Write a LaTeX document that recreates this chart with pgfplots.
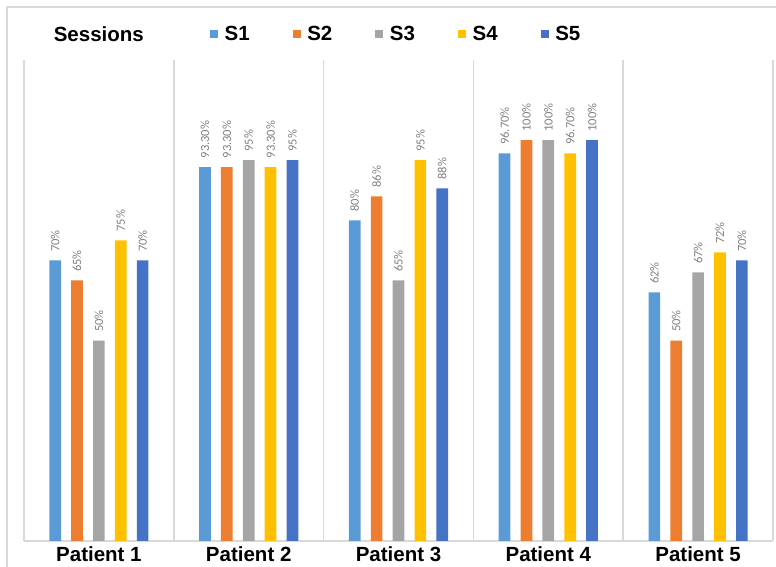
\documentclass[border=0pt]{standalone}
\usepackage{fontspec}
\setmainfont{Liberation Sans}
\newfontfamily\lblfont{Carlito}
\usepackage{pgfplots}
\usepackage{pgfplotstable}
\pgfplotsset{compat=1.18}

\definecolor{sA}{HTML}{5B9BD5}
\definecolor{sB}{HTML}{ED7D31}
\definecolor{sC}{HTML}{A5A5A5}
\definecolor{sD}{HTML}{FFC000}
\definecolor{sE}{HTML}{4472C4}
\definecolor{gridgray}{HTML}{D9D9D9}
\definecolor{lblgray}{HTML}{808080}

% one table per session: patient index, score, printed label
\pgfplotstableread{
x y lab
0 70   70
1 93.3 93.30
2 80   80
3 96.7 96.70
4 62   62
}\sone
\pgfplotstableread{
x y lab
0 65   65
1 93.3 93.30
2 86   86
3 100  100
4 50   50
}\stwo
\pgfplotstableread{
x y lab
0 50   50
1 95   95
2 65   65
3 100  100
4 67   67
}\sthree
\pgfplotstableread{
x y lab
0 75   75
1 93.3 93.30
2 95   95
3 96.7 96.70
4 72   72
}\sfour
\pgfplotstableread{
x y lab
0 70   70
1 95   95
2 88   88
3 100  100
4 70   70
}\sfive

\pgfplotsset{
  sqlegend/.style={legend image code/.code={\fill[##1] (0pt,-4pt) rectangle (8pt,4pt);}},
}

\newcommand{\bigfont}{\fontsize{20.5}{24}\selectfont\bfseries}

\begin{document}
\begin{tikzpicture}
\useasboundingbox (-24pt,-26pt) rectangle (752pt,541pt);
\draw[gridgray, line width=1.5pt] (-17pt,-27pt) -- (-17pt,534pt) -- (753pt,534pt);
\begin{axis}[
  at={(0pt,0pt)}, anchor=south west,
  scale only axis, width=749pt, height=481pt,
  xmin=-0.5, xmax=4.5, ymin=0, ymax=120,
  enlargelimits=false,
  axis x line*=bottom, axis y line=none,
  x axis line style={draw=gridgray, line width=1.5pt, -},
  ytick=\empty,
  xtick={0,1,2,3,4},
  xticklabels={Patient 1,Patient 2,Patient 3,Patient 4,Patient 5},
  major tick length=0pt, minor tick length=0pt,
  minor xtick={-0.5,0.5,1.5,2.5,3.5,4.5},
  xminorgrids=true,
  minor grid style={draw=gridgray, line width=1.5pt},
  xticklabel style={font=\bigfont, inner sep=0pt, yshift=-5.5pt},
  ybar, bar width=0.078,
  clip=false,
  point meta=explicit symbolic,
  nodes near coords={\pgfplotspointmeta\%},
  every node near coord/.append style={rotate=90, anchor=west, inner xsep=8.5pt, inner ysep=0pt,
    font=\lblfont\fontsize{12.5}{14}\selectfont, text=lblgray},
  legend columns=5,
  legend style={draw=none, fill=none, inner sep=0pt, outer sep=0pt,
    at={(0.2483,1.054)}, anchor=west,
    column sep=6.6pt,
    /tikz/every even column/.append style={column sep=43pt},
    nodes={inner sep=0pt, font=\bigfont}},
]
\addplot[fill=sA, draw=none, bar shift=-0.292, sqlegend] table[x=x, y=y, meta=lab] {\sone};
\addplot[fill=sB, draw=none, bar shift=-0.146, sqlegend] table[x=x, y=y, meta=lab] {\stwo};
\addplot[fill=sC, draw=none, bar shift=0, sqlegend] table[x=x, y=y, meta=lab] {\sthree};
\addplot[fill=sD, draw=none, bar shift=0.146, sqlegend] table[x=x, y=y, meta=lab] {\sfour};
\addplot[fill=sE, draw=none, bar shift=0.292, sqlegend] table[x=x, y=y, meta=lab] {\sfive};
\legend{S1,S2,S3,S4,S5}
\node[anchor=west, inner sep=0pt, font=\bigfont] at (rel axis cs:0.0395,1.054) {Sessions};
\end{axis}
\end{tikzpicture}
\end{document}
